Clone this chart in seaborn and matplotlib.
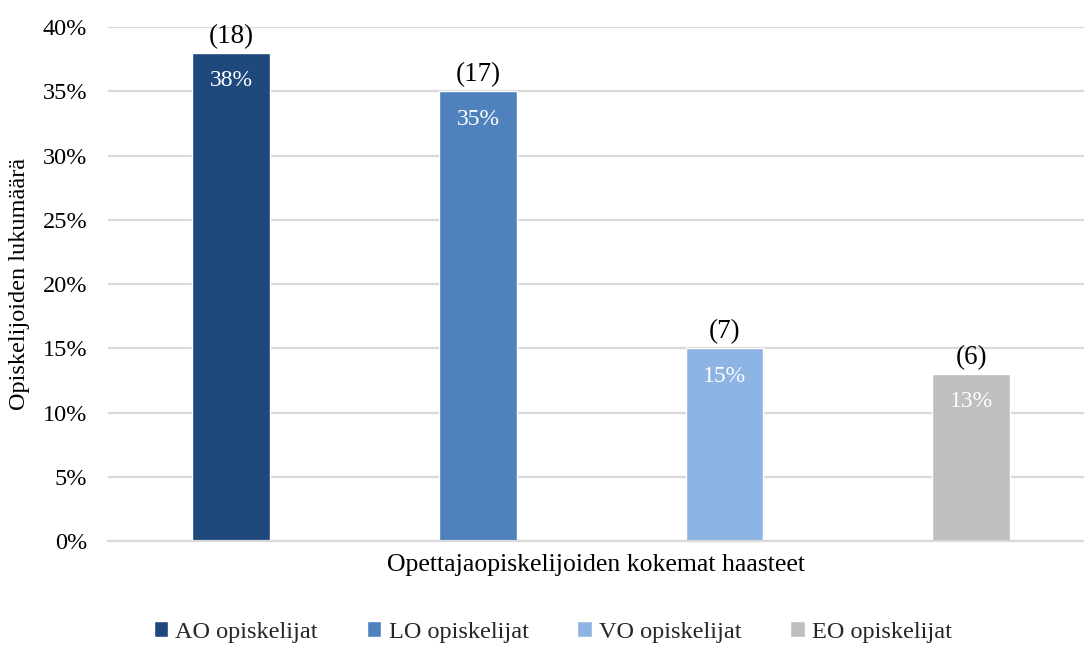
import seaborn as sns
import pandas as pd
import matplotlib.pyplot as plt
from matplotlib.ticker import PercentFormatter

# chart data
groups = ["AO opiskelijat", "LO opiskelijat", "VO opiskelijat", "EO opiskelijat"]
shares = [38, 35, 15, 13]
counts = [18, 17, 7, 6]
colors = ["#1f497d", "#4f81bd", "#8eb4e3", "#bfbfbf"]

df = pd.DataFrame({"group": groups, "share": shares, "count": counts})

sns.set_theme(style="white")
plt.rcParams["font.family"] = ["Liberation Serif", "DejaVu Serif"]

fs = 17.5

fig = plt.figure(figsize=(10.84, 6.46), dpi=100)
ax = fig.add_axes([0.0996, 0.1625, 0.9, 0.7955])

sns.barplot(data=df, x="group", y="share", hue="group", palette=colors,
            dodge=False, width=0.316, saturation=1, legend=True, ax=ax)

# labels on and above the bars
for bar, s, c in zip(ax.patches, shares, counts):
    cx = bar.get_x() + bar.get_width() / 2
    ax.annotate(f"({c})", (cx, s), xytext=(0, 3), textcoords="offset points",
                ha="center", va="bottom", fontsize=fs + 2, color="black")
    ax.annotate(f"{s}%", (cx, s), xytext=(0, -20), textcoords="offset points",
                ha="center", va="center", fontsize=fs - 0.5, color="white")

ax.set_ylim(0, 40)
ax.set_xlim(-0.5, 3.456)
ax.set_yticks(range(0, 41, 5))
ax.yaxis.set_major_formatter(PercentFormatter(decimals=0))
ax.set_xticks([])
ax.tick_params(axis="y", labelsize=fs, length=0, pad=15, colors="black")
ax.grid(axis="y", color="#d9d9d9", linewidth=1.6)
ax.set_axisbelow(True)
for side in ["left", "right", "top"]:
    ax.spines[side].set_visible(False)
ax.spines["bottom"].set_color("#d9d9d9")
ax.spines["bottom"].set_linewidth(1.6)

ax.set_xlabel("Opettajaopiskelijoiden kokemat haasteet", fontsize=fs + 1,
              color="black", labelpad=9)
ax.set_ylabel("Opiskelijoiden lukumäärä", fontsize=fs, color="black", labelpad=9)

sns.move_legend(ax, "center", bbox_to_anchor=(0.456, -0.177), ncol=4,
                frameon=False, title=None, fontsize=fs, handlelength=0.6,
                handleheight=0.6, handletextpad=0.3, columnspacing=2.0)

fig.savefig("out.png", dpi=100)
